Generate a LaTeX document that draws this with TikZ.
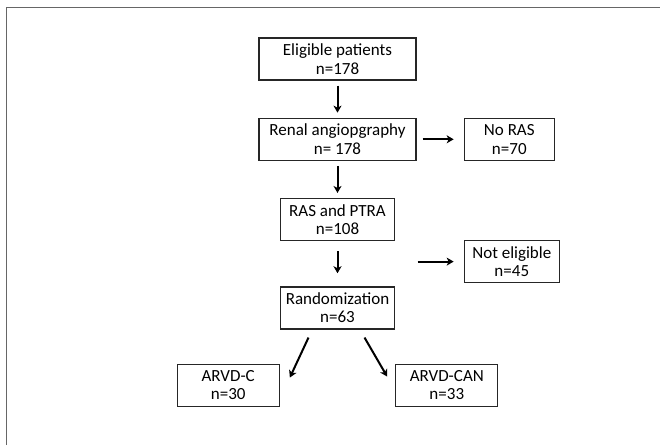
\documentclass[tikz,border=0pt]{standalone}
\usepackage{fontspec}
\setmainfont{Carlito}
\usepackage{tikz}
\usetikzlibrary{arrows.meta, positioning}

\begin{document}
\begin{tikzpicture}[
    x=1pt, y=-1pt,
    node distance=37pt,
    box/.style={rectangle, draw=black!85, line width=1.3pt, minimum height=42pt, align=center, inner sep=2pt, font=\fontsize{17}{18.5}\selectfont},
    arrow/.style={-{Stealth[length=7pt, width=8pt, inset=2pt]}, line width=2pt, black},
    frame/.style={draw=black!60, line width=1pt}
]

\useasboundingbox (0,0) rectangle (660,445);
\draw[frame] (6,445) -- (6,7) -- (660,7);

\node[box, minimum width=157pt] (eligible) at (337.5,59) {Eligible patients\\n=178};
\node[box, minimum width=157pt, below=of eligible] (renal) {Renal angiopgraphy\\n= 178};
\node[box, minimum width=90pt, right=47pt of renal] (noras) {No RAS\\n=70};
\node[box, minimum width=114pt, below=of renal] (ras) {RAS and PTRA\\n=108};
\node[box, minimum width=114pt, below=45pt of ras] (random) {Randomization\\n=63};
\node[box, minimum width=95pt, below=79pt of noras.south west, anchor=north west] (notelig) {Not eligible\\n=45};
\node[box, minimum width=102pt, below=34pt of random.south west, anchor=north east] (arvdc) {ARVD-C\\n=30};
\node[box, minimum width=102pt, below=34pt of random.south east, anchor=north west] (arvdcan) {ARVD-CAN\\n=33};
\coordinate[left=46pt of notelig.west] (split);

\draw[arrow, shorten <=5pt, shorten >=5pt] (eligible) -- (renal);
\draw[arrow, shorten <=6pt, shorten >=10pt] (renal) -- (noras);
\draw[arrow, shorten <=5pt, shorten >=5pt] (renal) -- (ras);
\draw[arrow, shorten <=10pt, shorten >=13pt] (ras) -- (random);
\draw[arrow, shorten >=10pt] (split) -- (notelig);
\draw[arrow] ([xshift=-29pt, yshift=-8pt]random.south) -- ([xshift=10pt, yshift=-14pt]arvdc.north east);
\draw[arrow] ([xshift=27pt, yshift=-8pt]random.south) -- ([xshift=-8pt, yshift=-13pt]arvdcan.north west);

\end{tikzpicture}
\end{document}
